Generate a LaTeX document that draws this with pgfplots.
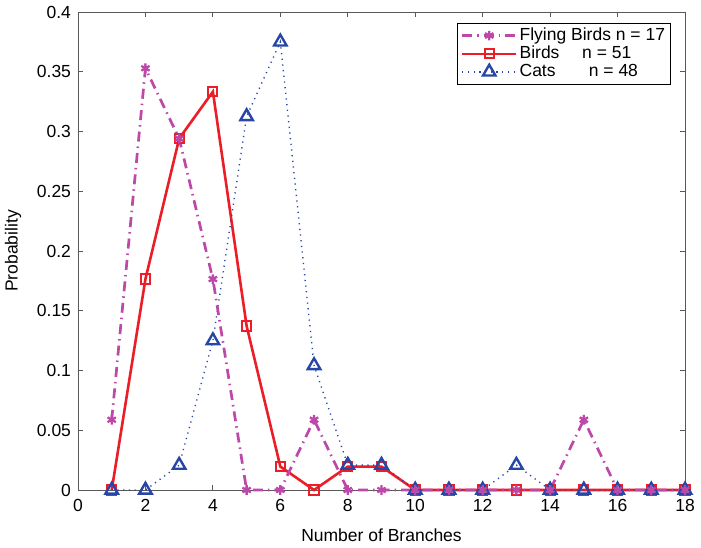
\documentclass[border=0pt]{standalone}
\usepackage{pgfplots}
\pgfplotsset{compat=1.18}
\usepackage{fontspec}
\setmainfont{Liberation Sans}
\definecolor{fb}{RGB}{190,72,170}
\definecolor{br}{RGB}{235,30,40}
\definecolor{ct}{RGB}{40,70,165}
\begin{document}
\fontsize{17.5}{21}\selectfont
\begin{tikzpicture}
\begin{axis}[
  scale only axis,
  width=607pt, height=478pt,
  xmin=0, xmax=18, ymin=0, ymax=0.4,
  xtick={0,2,...,18},
  ytick={0,0.05,...,0.4},
  yticklabels={0,0.05,0.1,0.15,0.2,0.25,0.3,0.35,0.4},
  tick align=inside,
  major tick length=5pt,
  tick style={black!65, line width=0.8pt},
  axis line style={black!65, line width=0.8pt},
  /pgf/number format/assume math mode=true,
  ticklabel style={font=\fontsize{17.5}{21}\selectfont},
  xticklabel style={yshift=-3pt},
  yticklabel style={xshift=-1pt},
  label style={font=\fontsize{17.5}{21}\selectfont},
  xlabel={Number of Branches},
  ylabel={Probability},
  xlabel style={at={(axis description cs:0.5,-0.094)}, anchor=center},
  ylabel style={at={(axis description cs:-0.107,0.5)}, anchor=center},
  clip=false,
  legend cell align=left,
  legend image code/.code={\draw[mark repeat=2,mark phase=2,#1] plot coordinates {(0cm,0cm) (0.95cm,0cm) (1.9cm,0cm)};},
  legend style={at={(0.976,0.978)}, anchor=north east, draw=black, line width=0.8pt, font=\fontsize{17.5}{21}\selectfont, row sep=-1pt, inner xsep=3pt, inner ysep=3pt, nodes={inner xsep=2pt}},
]
\addlegendimage{fb, line width=2.7pt, dash pattern=on 10pt off 5pt on 1.5pt off 5pt, mark=asterisk, mark size=4.8pt, mark options={solid, line width=2.3pt}}
\addlegendentry{Flying Birds n = 17}
\addlegendimage{br, line width=2.6pt, mark=square, mark size=4.6pt, mark options={solid, line width=2pt}}
\addlegendentry{Birds\hspace{1.3em}n = 51}
\addlegendimage{ct, line width=1.4pt, dash pattern=on 1.2pt off 4.5pt, mark=triangle, mark size=7.2pt, mark options={solid, line width=2.4pt}}
\addlegendentry{Cats\hspace{1.9em}n = 48}
% Birds
\addplot[forget plot, br, line width=2.6pt, mark=square, mark size=4.6pt, mark options={solid, line width=2pt}] coordinates {
(1,0) (2,0.1765) (3,0.2941) (4,0.3333) (5,0.1373) (6,0.0196) (7,0) (8,0.0196) (9,0.0196)
(10,0) (11,0) (12,0) (13,0) (14,0) (15,0) (16,0) (17,0) (18,0)};
% Cats
\addplot[forget plot, ct, line width=1.4pt, dash pattern=on 1.2pt off 4.5pt, mark=triangle, mark size=7.2pt, mark options={solid, line width=2.4pt}] coordinates {
(1,0) (2,0) (3,0.0208) (4,0.125) (5,0.3125) (6,0.375) (7,0.1042) (8,0.0208) (9,0.0208)
(10,0) (11,0) (12,0) (13,0.0208) (14,0) (15,0) (16,0) (17,0) (18,0)};
% Flying birds
\addplot[forget plot, fb, line width=2.7pt, dash pattern=on 10pt off 5pt on 1.5pt off 5pt, mark=asterisk, mark size=4.8pt, mark options={solid, line width=2.3pt}] coordinates {
(1,0.0588) (2,0.3529) (3,0.2941) (4,0.1765) (5,0) (6,0) (7,0.0588) (8,0) (9,0)
(10,0) (11,0) (12,0) (13,0) (14,0) (15,0.0588) (16,0) (17,0) (18,0)};
\end{axis}
\pgfresetboundingbox
\path (-78pt,-58pt) rectangle (623pt,490pt);
\end{tikzpicture}
\end{document}
